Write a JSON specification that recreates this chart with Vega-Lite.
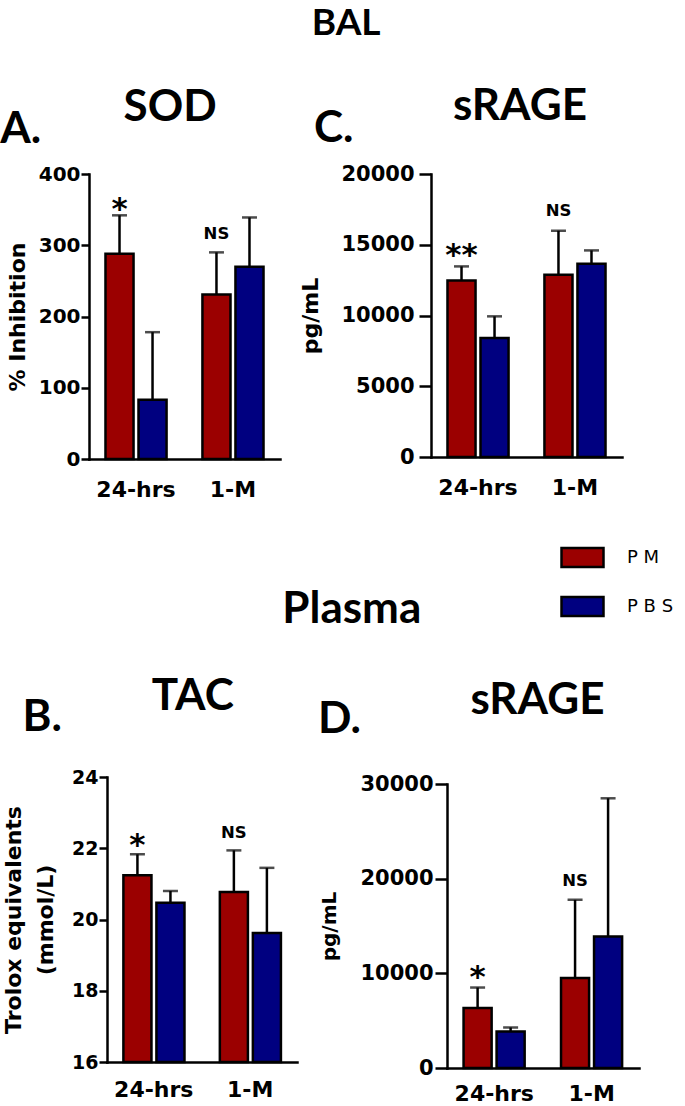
{
  "$schema": "https://vega.github.io/schema/vega-lite/v6.json",
  "padding": {"left": 0, "top": 5, "right": 0, "bottom": 0},
  "background": "white",
  "columns": 1,
  "align": "none",
  "spacing": 88,
  "config": {
    "view": {"stroke": null},
    "font": "DejaVu Sans",
    "axis": {"grid": false, "domainColor": "black", "domainWidth": 2.5, "tickColor": "black", "tickWidth": 2.5, "tickSize": 8, "labelFont": "DejaVu Sans", "labelFontWeight": "bold", "labelColor": "black", "titleFont": "DejaVu Sans", "titleFontWeight": "bold", "titleColor": "black"},
    "axisX": {"ticks": false, "labelAngle": 0, "labelFontSize": 22, "labelPadding": 20, "title": null, "domainCap": "square"},
    "axisY": {"labelPadding": 1, "titleFontSize": 22, "titlePadding": 18, "domainCap": "square", "format": "d"},
    "title": {"font": "Lato", "fontWeight": "bold", "color": "black"},
    "legend": {"orient": "none", "legendX": 453, "legendY": 361, "title": null, "symbolType": "M-1,-0.45H1V0.45H-1Z", "symbolSize": 1764, "symbolStrokeColor": "black", "symbolStrokeWidth": 3, "labelFont": "DejaVu Sans", "labelFontSize": 18, "labelOffset": 22, "rowPadding": 12, "labelColor": "black"},
    "bar": {"stroke": "black", "strokeWidth": 2.5}
  },
  "datasets": {
    "sod": [
      {"time": "24-hrs", "group": "PM", "mean": 288, "upper": 342},
      {"time": "24-hrs", "group": "PBS", "mean": 83, "upper": 178},
      {"time": "1-M", "group": "PM", "mean": 231, "upper": 290},
      {"time": "1-M", "group": "PBS", "mean": 270, "upper": 339}
    ],
    "sod_ann": [
      {"time": "24-hrs", "group": "PM", "label": "*", "pos": 337, "size": 31},
      {"time": "1-M", "group": "PM", "label": "NS", "pos": 309, "size": 16.5}
    ],
    "bal_srage": [
      {"time": "24-hrs", "group": "PM", "mean": 12480, "upper": 13470},
      {"time": "24-hrs", "group": "PBS", "mean": 8410, "upper": 9940},
      {"time": "1-M", "group": "PM", "mean": 12880, "upper": 15990},
      {"time": "1-M", "group": "PBS", "mean": 13660, "upper": 14600}
    ],
    "bal_srage_ann": [
      {"time": "24-hrs", "group": "PM", "label": "**", "pos": 13570, "size": 31},
      {"time": "1-M", "group": "PM", "label": "NS", "pos": 17000, "size": 16.5}
    ],
    "tac": [
      {"time": "24-hrs", "group": "PM", "mean": 21.24, "upper": 21.83},
      {"time": "24-hrs", "group": "PBS", "mean": 20.47, "upper": 20.8},
      {"time": "1-M", "group": "PM", "mean": 20.77, "upper": 21.94},
      {"time": "1-M", "group": "PBS", "mean": 19.62, "upper": 21.45}
    ],
    "tac_ann": [
      {"time": "24-hrs", "group": "PM", "label": "*", "pos": 21.82, "size": 31},
      {"time": "1-M", "group": "PM", "label": "NS", "pos": 22.28, "size": 16.5}
    ],
    "plasma_srage": [
      {"time": "24-hrs", "group": "PM", "mean": 6330, "upper": 8500},
      {"time": "24-hrs", "group": "PBS", "mean": 3860, "upper": 4280},
      {"time": "1-M", "group": "PM", "mean": 9500, "upper": 17760},
      {"time": "1-M", "group": "PBS", "mean": 13890, "upper": 28490}
    ],
    "plasma_srage_ann": [
      {"time": "24-hrs", "group": "PM", "label": "*", "pos": 8556, "size": 31},
      {"time": "1-M", "group": "PM", "label": "NS", "pos": 19240, "size": 16.5}
    ]
  },
  "concat": [
    {
      "title": {"text": "BAL", "fontSize": 37, "anchor": "middle", "frame": "bounds", "offset": 42, "dx": 35},
      "spacing": 1,
      "hconcat": [
        {
          "title": {"text": "SOD", "fontSize": 44, "anchor": "middle", "frame": "bounds", "offset": -22, "dx": 21},
          "vconcat": [
            {
              "width": 173, "height": 285,
              "title": {"text": "A.", "fontSize": 44, "anchor": "start", "frame": "bounds", "offset": 12, "dx": -6},
              "data": {"name": "sod"},
              "encoding": {
                "x": {"field": "time", "type": "nominal", "sort": ["24-hrs", "1-M"], "scale": {"range": [-18, 173], "paddingInner": 0.37, "paddingOuter": 0.17}},
                "xOffset": {"field": "group", "type": "nominal", "sort": ["PM", "PBS"], "scale": {"paddingInner": 0.15, "paddingOuter": 0}}
              },
              "layer": [
                {"mark": {"type": "bar"}, "encoding": {
                  "y": {"field": "mean", "type": "quantitative", "title": "% Inhibition", "scale": {"domain": [0, 400]}, "axis": {"values": [0, 100, 200, 300, 400], "labelFontSize": 20, "titlePadding": 9, "offset": 18}},
                  "color": {"field": "group", "type": "nominal", "sort": ["PM", "PBS"], "scale": {"domain": ["PM", "PBS"], "range": ["#9b0000", "#000080"]}, "legend": {"labelExpr": "datum.label == 'PM' ? 'P M' : 'P B S'"}}}},
                {"mark": {"type": "rule", "color": "black", "strokeWidth": 2.5}, "encoding": {"y": {"field": "mean", "type": "quantitative", "title": "% Inhibition"}, "y2": {"field": "upper"}}},
                {"mark": {"type": "tick", "color": "black", "thickness": 2.5, "size": 15}, "encoding": {"y": {"field": "upper", "type": "quantitative", "title": "% Inhibition"}}},
                {"data": {"name": "sod_ann"}, "mark": {"type": "text", "font": "DejaVu Sans", "fontWeight": "bold", "color": "black", "baseline": "alphabetic"}, "encoding": {"y": {"field": "pos", "type": "quantitative", "title": "% Inhibition"}, "text": {"field": "label"}, "size": {"field": "size", "type": "quantitative", "scale": null}}}
              ]
            }
          ]
        },
        {
          "title": {"text": "sRAGE", "fontSize": 44, "anchor": "middle", "frame": "bounds", "offset": -22, "dx": 59},
          "vconcat": [
            {
              "width": 191, "height": 283,
              "title": {"text": "C.", "fontSize": 44, "anchor": "start", "frame": "bounds", "offset": 12, "dx": 14},
              "data": {"name": "bal_srage"},
              "encoding": {
                "x": {"field": "time", "type": "nominal", "sort": ["24-hrs", "1-M"], "scale": {"paddingInner": 0.37, "paddingOuter": 0.17}},
                "xOffset": {"field": "group", "type": "nominal", "sort": ["PM", "PBS"], "scale": {"paddingInner": 0.15, "paddingOuter": 0}}
              },
              "layer": [
                {"mark": {"type": "bar"}, "encoding": {
                  "y": {"field": "mean", "type": "quantitative", "title": "pg/mL", "scale": {"domain": [0, 20000]}, "axis": {"values": [0, 5000, 10000, 15000, 20000], "labelFontSize": 21, "labelPadding": 5, "titlePadding": 18, "tickSize": 12}},
                  "color": {"field": "group", "type": "nominal", "sort": ["PM", "PBS"], "scale": {"domain": ["PM", "PBS"], "range": ["#9b0000", "#000080"]}, "legend": {"labelExpr": "datum.label == 'PM' ? 'P M' : 'P B S'"}}}},
                {"mark": {"type": "rule", "color": "black", "strokeWidth": 2.5}, "encoding": {"y": {"field": "mean", "type": "quantitative", "title": "pg/mL"}, "y2": {"field": "upper"}}},
                {"mark": {"type": "tick", "color": "black", "thickness": 2.5, "size": 15}, "encoding": {"y": {"field": "upper", "type": "quantitative", "title": "pg/mL"}}},
                {"data": {"name": "bal_srage_ann"}, "mark": {"type": "text", "font": "DejaVu Sans", "fontWeight": "bold", "color": "black", "baseline": "alphabetic"}, "encoding": {"y": {"field": "pos", "type": "quantitative", "title": "pg/mL"}, "text": {"field": "label"}, "size": {"field": "size", "type": "quantitative", "scale": null}}}
              ]
            }
          ]
        }
      ]
    },
    {
      "title": {"text": "Plasma", "fontSize": 44, "anchor": "middle", "frame": "bounds", "offset": 43, "dx": 31},
      "spacing": 20,
      "hconcat": [
        {
          "title": {"text": "TAC", "fontSize": 44, "anchor": "middle", "frame": "bounds", "offset": -23, "dx": 43},
          "vconcat": [
            {
              "width": 190, "height": 285,
              "title": {"text": "B.", "fontSize": 44, "anchor": "start", "frame": "bounds", "offset": 28, "dx": 20},
              "data": {"name": "tac"},
              "encoding": {
                "x": {"field": "time", "type": "nominal", "sort": ["24-hrs", "1-M"], "scale": {"paddingInner": 0.37, "paddingOuter": 0.17}, "axis": {"labelPadding": 17}},
                "xOffset": {"field": "group", "type": "nominal", "sort": ["PM", "PBS"], "scale": {"paddingInner": 0.15, "paddingOuter": 0}}
              },
              "layer": [
                {"mark": {"type": "bar"}, "encoding": {
                  "y": {"field": "mean", "type": "quantitative", "title": ["Trolox equivalents", "(mmol/L)"], "scale": {"domain": [16, 24], "zero": false}, "axis": {"values": [16, 18, 20, 22, 24], "labelFontSize": 19, "titleFontSize": 22, "titleLineHeight": 32, "titlePadding": 14}},
                  "y2": {"datum": 16},
                  "color": {"field": "group", "type": "nominal", "sort": ["PM", "PBS"], "scale": {"domain": ["PM", "PBS"], "range": ["#9b0000", "#000080"]}, "legend": {"labelExpr": "datum.label == 'PM' ? 'P M' : 'P B S'"}}}},
                {"mark": {"type": "rule", "color": "black", "strokeWidth": 2.5}, "encoding": {"y": {"field": "mean", "type": "quantitative", "title": ["Trolox equivalents", "(mmol/L)"]}, "y2": {"field": "upper"}}},
                {"mark": {"type": "tick", "color": "black", "thickness": 2.5, "size": 15}, "encoding": {"y": {"field": "upper", "type": "quantitative", "title": ["Trolox equivalents", "(mmol/L)"]}}},
                {"data": {"name": "tac_ann"}, "mark": {"type": "text", "font": "DejaVu Sans", "fontWeight": "bold", "color": "black", "baseline": "alphabetic"}, "encoding": {"y": {"field": "pos", "type": "quantitative", "title": ["Trolox equivalents", "(mmol/L)"]}, "text": {"field": "label"}, "size": {"field": "size", "type": "quantitative", "scale": null}}}
              ]
            }
          ]
        },
        {
          "title": {"text": "sRAGE", "fontSize": 44, "anchor": "middle", "frame": "bounds", "offset": -25, "dx": 59},
          "vconcat": [
            {
              "width": 192, "height": 291,
              "title": {"text": "D.", "fontSize": 44, "anchor": "start", "frame": "bounds", "offset": 31, "dx": -2},
              "data": {"name": "plasma_srage"},
              "encoding": {
                "x": {"field": "time", "type": "nominal", "sort": ["24-hrs", "1-M"], "scale": {"paddingInner": 0.37, "paddingOuter": 0.17}, "axis": {"labelPadding": 15}},
                "xOffset": {"field": "group", "type": "nominal", "sort": ["PM", "PBS"], "scale": {"paddingInner": 0.15, "paddingOuter": 0}}
              },
              "layer": [
                {"mark": {"type": "bar"}, "encoding": {
                  "y": {"field": "mean", "type": "quantitative", "title": "pg/mL", "scale": {"domain": [0, 30000], "range": [291, 7]}, "axis": {"values": [0, 10000, 20000, 30000], "labelFontSize": 21, "labelPadding": 2, "titleFontSize": 20, "titlePadding": 20, "tickSize": 12}},
                  "color": {"field": "group", "type": "nominal", "sort": ["PM", "PBS"], "scale": {"domain": ["PM", "PBS"], "range": ["#9b0000", "#000080"]}, "legend": {"labelExpr": "datum.label == 'PM' ? 'P M' : 'P B S'"}}}},
                {"mark": {"type": "rule", "color": "black", "strokeWidth": 2.5}, "encoding": {"y": {"field": "mean", "type": "quantitative", "title": "pg/mL"}, "y2": {"field": "upper"}}},
                {"mark": {"type": "tick", "color": "black", "thickness": 2.5, "size": 15}, "encoding": {"y": {"field": "upper", "type": "quantitative", "title": "pg/mL"}}},
                {"data": {"name": "plasma_srage_ann"}, "mark": {"type": "text", "font": "DejaVu Sans", "fontWeight": "bold", "color": "black", "baseline": "alphabetic"}, "encoding": {"y": {"field": "pos", "type": "quantitative", "title": "pg/mL"}, "text": {"field": "label"}, "size": {"field": "size", "type": "quantitative", "scale": null}}}
              ]
            }
          ]
        }
      ]
    }
  ]
}
